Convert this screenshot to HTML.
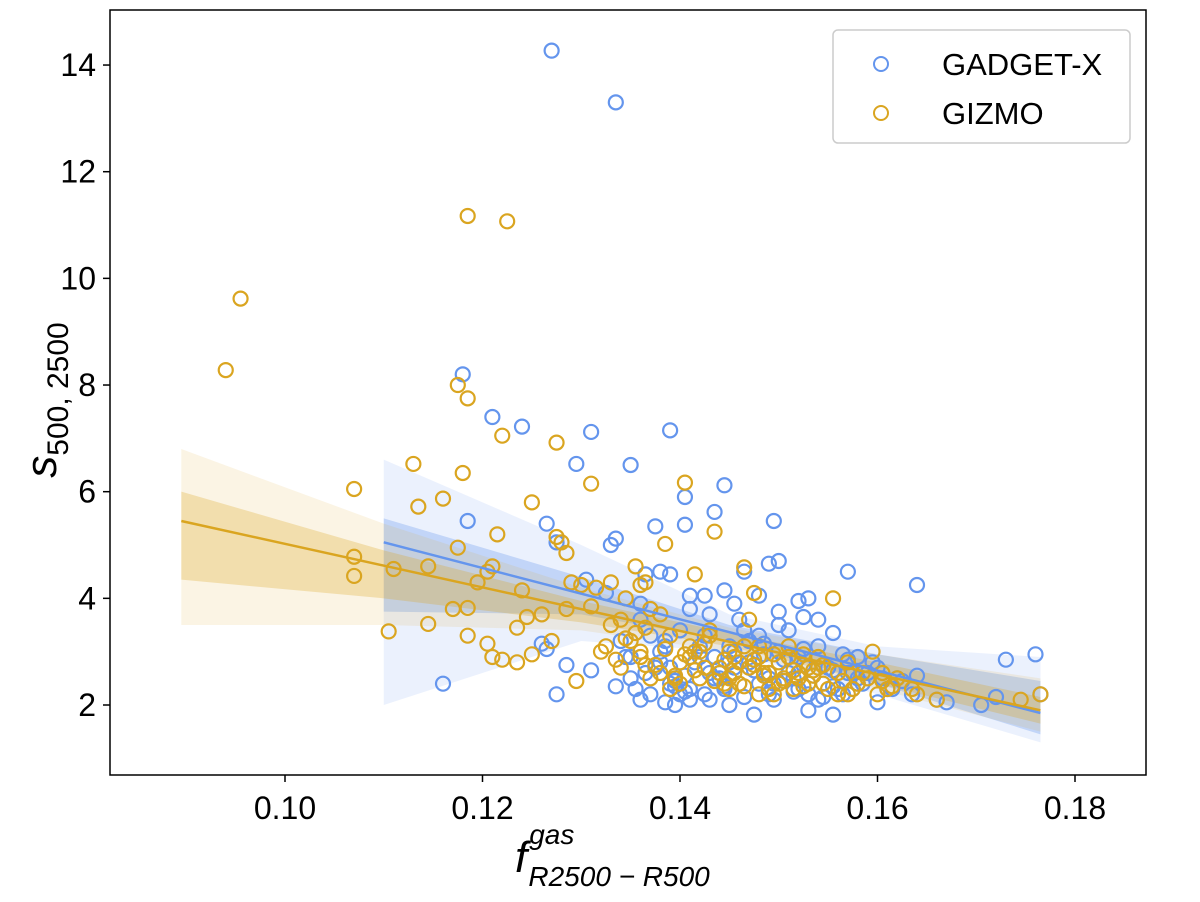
<!DOCTYPE html>
<html><head><meta charset="utf-8"><style>
body{margin:0;background:#fff}
svg{font-family:"Liberation Sans","DejaVu Sans",sans-serif}
</style></head><body>
<svg id="chart" width="1200" height="897"></svg>
<script>
const gadgetX=[0.127,0.1335,0.118,0.121,0.124,0.131,0.139,0.1295,0.135,0.1445,0.1405,0.1405,0.1435,0.1375,0.1265,0.1185,0.1275,0.133,0.1335,0.1495,0.15,0.149,0.164,0.157,0.1465,0.138,0.1365,0.139,0.1305,0.1325,0.1445,0.1425,0.141,0.148,0.152,0.153,0.1525,0.154,0.150,0.1455,0.116,0.1275,0.1265,0.1285,0.126,0.131,0.1335,0.136,0.1385,0.1395,0.141,0.1475,0.1555,0.153,0.160,0.1635,0.164,0.166,0.167,0.1705,0.172,0.173,0.176,0.1765,0.1555,0.158,0.160,0.162,
0.134,0.135,0.136,0.137,0.138,0.139,0.140,0.141,0.142,0.143,0.144,0.145,0.146,0.147,0.148,0.149,0.150,0.151,0.152,0.153,0.154,0.155,0.156,0.157,0.158,0.159,0.135,0.137,0.139,0.141,0.143,0.145,0.147,0.149,0.151,0.153,0.155,0.157,0.140,0.142,0.144,0.146,0.148,0.150,0.152,0.136,0.138,0.143,0.147,0.151,0.154,0.158,0.161,0.145,0.149,
0.1345,0.1355,0.1375,0.1385,0.1395,0.1405,0.1415,0.1425,0.1435,0.1445,0.1455,0.1465,0.1475,0.1485,0.1495,0.1505,0.1515,0.1525,0.1535,0.1545,0.1555,0.1565,0.1575,0.1585,0.1595,0.1605,0.1615,0.1625,0.1365,0.1395,0.1425,0.1455,0.1485,0.1515,0.1545,0.1575,0.1405,0.1435,0.1465,0.1495,0.1525,0.1555,0.1385,0.1445,0.1505,0.1565];
const gadgetY=[14.27,13.3,8.2,7.4,7.22,7.12,7.15,6.52,6.5,6.12,5.9,5.38,5.62,5.35,5.4,5.45,5.05,5.0,5.12,5.45,4.7,4.65,4.25,4.5,4.5,4.5,4.45,4.45,4.35,4.1,4.15,4.05,4.05,4.05,3.95,4.0,3.65,3.6,3.75,3.9,2.4,2.2,3.05,2.75,3.15,2.65,2.35,2.1,2.05,2.0,2.1,1.82,1.82,1.9,2.05,2.2,2.55,2.1,2.05,2.0,2.15,2.85,2.95,2.2,3.35,2.9,2.7,2.5,
3.2,2.5,3.6,2.2,3.0,2.7,3.4,2.3,2.9,3.7,2.6,3.1,2.4,2.8,3.3,2.2,3.5,2.6,2.9,2.4,3.1,2.7,2.3,2.85,2.5,2.6,2.9,3.3,2.4,3.8,2.6,2.8,3.2,2.5,2.9,2.2,2.7,2.6,2.2,3.1,2.5,3.6,2.4,3.0,2.3,3.9,2.8,2.1,2.7,3.4,2.1,2.4,2.3,2.0,2.6,
2.9,2.3,2.7,3.1,2.45,2.25,2.8,3.3,2.5,2.35,3.0,2.15,2.65,3.15,2.4,2.85,2.25,3.05,2.55,2.75,2.35,2.95,2.6,2.4,2.8,2.5,2.3,2.45,2.6,2.35,2.2,2.7,2.95,2.5,2.15,2.3,2.55,2.9,3.4,2.1,2.75,2.65,3.2,2.3,2.45,2.2];
const gizmoX=[0.0955,0.094,0.1185,0.1225,0.1175,0.1185,0.122,0.1275,0.107,0.113,0.118,0.131,0.1405,0.116,0.125,0.1135,0.1215,0.1275,0.128,0.1385,0.1435,0.107,0.107,0.111,0.1145,0.1175,0.1205,0.121,0.1195,0.1185,0.117,0.1145,0.1105,0.1185,0.1205,0.121,0.122,0.1235,0.124,0.1245,0.1235,0.125,0.126,0.127,0.1285,0.1285,0.129,0.13,0.131,0.1315,0.133,0.1345,0.1355,0.136,0.1365,0.1415,0.1465,0.1475,0.1555,0.1595,0.1605,0.166,0.1745,0.1765,0.1295,
0.132,0.133,0.134,0.135,0.136,0.137,0.138,0.139,0.140,0.141,0.142,0.143,0.144,0.145,0.146,0.147,0.148,0.149,0.150,0.151,0.152,0.153,0.154,0.155,0.156,0.157,0.158,0.159,0.160,0.162,0.134,0.136,0.138,0.140,0.142,0.144,0.146,0.148,0.150,0.152,0.154,0.156,0.141,0.143,0.145,0.147,0.149,0.151,0.137,0.139,0.145,0.148,0.153,0.157,0.161,0.164,
0.1325,0.1335,0.1355,0.1375,0.1385,0.1395,0.1405,0.1415,0.1425,0.1435,0.1445,0.1455,0.1465,0.1475,0.1485,0.1495,0.1505,0.1515,0.1525,0.1535,0.1545,0.1565,0.1575,0.1585,0.1605,0.1615,0.1635,0.1345,0.1365,0.1395,0.1425,0.1455,0.1485,0.1515,0.1545,0.1415,0.1445,0.1475,0.1505,0.1535,0.1365,0.1465,0.1495,0.1525];
const gizmoY=[9.62,8.28,11.17,11.07,8.0,7.75,7.05,6.92,6.05,6.52,6.35,6.15,6.17,5.87,5.8,5.72,5.2,5.15,5.05,5.02,5.25,4.78,4.42,4.55,4.6,4.95,4.5,4.6,4.3,3.82,3.8,3.52,3.38,3.3,3.15,2.9,2.85,3.45,4.15,3.65,2.8,2.95,3.7,3.2,3.8,4.85,4.3,4.25,3.85,4.2,4.3,4.0,4.6,4.25,4.3,4.45,4.58,4.1,4.0,3.0,2.6,2.1,2.1,2.2,2.45,
3.0,3.5,2.7,3.2,2.9,3.8,2.6,3.3,2.8,3.1,2.5,3.4,2.7,3.0,2.4,3.6,2.9,2.6,2.8,3.1,2.5,2.7,2.9,2.3,2.6,2.8,2.4,2.5,2.2,2.5,3.6,3.0,3.7,2.4,3.0,2.6,2.8,3.1,2.4,2.6,2.7,2.2,2.9,3.3,2.5,2.7,2.3,2.9,2.5,2.3,2.3,2.2,2.4,2.2,2.3,2.2,
3.1,2.85,3.35,2.75,3.05,2.55,2.95,2.65,3.15,2.45,2.85,2.6,2.35,2.75,2.55,2.95,2.45,2.65,2.35,2.55,2.75,2.45,2.3,2.6,2.45,2.35,2.3,3.25,2.75,2.5,2.7,2.9,2.6,2.3,2.4,3.0,2.4,2.85,2.5,2.65,3.45,3.1,2.2,2.95];
const gadgetBandX=[0.110,0.130,0.145,0.160,0.1765];
const gadgetInnerLo=[3.75,3.7,3.2,2.4,1.45], gadgetInnerHi=[5.5,4.4,3.5,2.95,2.45];
const gadgetOuterLo=[2.0,3.2,3.0,2.2,1.3], gadgetOuterHi=[6.6,5.0,3.7,3.1,2.9];
const gadgetLine=[[0.110,5.05],[0.1765,1.85]];
const gizmoBandX=[0.0895,0.110,0.130,0.145,0.160,0.1765];
const gizmoInnerLo=[4.35,4.0,3.55,3.1,2.4,1.65], gizmoInnerHi=[6.0,4.9,3.95,3.35,2.8,2.15];
const gizmoOuterLo=[3.5,3.5,3.4,3.0,2.3,1.5], gizmoOuterHi=[6.8,5.4,4.2,3.45,2.95,2.5];
const gizmoLine=[[0.0895,5.45],[0.1765,1.9]];
const xTicks=[0.10,0.12,0.14,0.16,0.18], xTickLabels=["0.10","0.12","0.14","0.16","0.18"];
const yTicks=[2,4,6,8,10,12,14];

const L=110,R=1146,T=10,B=775;
const sx=v=>285+(v-0.10)*9875;
const sy=v=>705-(v-2)*53.33;
const svg=document.getElementById('chart');
const NS='http://www.w3.org/2000/svg';
function mk(t,a,p){const e=document.createElementNS(NS,t);for(const k in a)e.setAttribute(k,a[k]);(p||svg).appendChild(e);return e;}
function band(xs,lo,hi,fill,op,name){
  let d='M'+xs.map((x,i)=>sx(x)+','+sy(hi[i])).join('L')+'L'+xs.map((x,i)=>sx(x)+','+sy(lo[i])).reverse().join('L')+'Z';
  const e=mk('path',{d:d,fill:fill,'fill-opacity':op});
  
  
}
band(gadgetBandX,gadgetOuterLo,gadgetOuterHi,'#6495ED',0.13,'gadget-x-outer-band');
band(gadgetBandX,gadgetInnerLo,gadgetInnerHi,'#6495ED',0.3,'gadget-x-inner-band');
band(gizmoBandX,gizmoOuterLo,gizmoOuterHi,'#DAA520',0.12,'gizmo-outer-band');
band(gizmoBandX,gizmoInnerLo,gizmoInnerHi,'#DAA520',0.28,'gizmo-inner-band');
function pts(xs,ys,col,name){
  const g=mk('g',{});
  
  
  xs.forEach((x,i)=>{const c=mk('circle',{cx:sx(x),cy:sy(ys[i]),r:7,fill:'none',stroke:col,'stroke-width':2.2},g);
    
    });
}
pts(gadgetX,gadgetY,'#6495ED','gadget-x-points');
pts(gizmoX,gizmoY,'#DAA520','gizmo-points');
function line(p,col,name){const e=mk('line',{x1:sx(p[0][0]),y1:sy(p[0][1]),x2:sx(p[1][0]),y2:sy(p[1][1]),stroke:col,'stroke-width':2.5});
  
  }
line(gadgetLine,'#6495ED','gadget-x-fit-line');
line(gizmoLine,'#DAA520','gizmo-fit-line');
const fr=mk('rect',{x:L,y:T,width:R-L,height:B-T,fill:'none',stroke:'#000','stroke-width':1.5});


xTicks.forEach((v,i)=>{mk('line',{x1:sx(v),x2:sx(v),y1:B,y2:B+7,stroke:'#000','stroke-width':1.5});
  const t=mk('text',{x:sx(v),y:B+44,'font-size':32,'text-anchor':'middle'});t.textContent=xTickLabels[i];
  
  });
yTicks.forEach(v=>{mk('line',{x1:L-7,x2:L,y1:sy(v),y2:sy(v),stroke:'#000','stroke-width':1.5});
  const t=mk('text',{x:L-14,y:sy(v)+11,'font-size':32,'text-anchor':'end'});t.textContent=v;
  
  });
</script>
<svg width="1200" height="897" style="position:absolute;left:0;top:0">
<text transform="translate(56,400) rotate(-90)" font-family="Liberation Sans,sans-serif" font-size="44" font-style="italic" text-anchor="middle">s<tspan font-size="30" dy="12" font-style="normal">500, 2500</tspan></text>
<text x="515" y="872" font-family="Liberation Sans,sans-serif" font-size="44" font-style="italic">f<tspan font-size="28" dx="2" dy="-28">gas</tspan><tspan font-size="28" dx="-46" dy="42">R2500 − R500</tspan></text>
<g>
<rect x="833" y="30" width="297" height="113" rx="5" fill="#fff" stroke="#ccc" stroke-width="1.5"/>
<circle cx="881" cy="64" r="7" fill="none" stroke="#6495ED" stroke-width="2"/>
<text x="942" y="75" font-family="Liberation Sans,sans-serif" font-size="31">GADGET-X</text>
<circle cx="881" cy="113" r="7" fill="none" stroke="#DAA520" stroke-width="2"/>
<text x="942" y="124" font-family="Liberation Sans,sans-serif" font-size="31">GIZMO</text>
</g>
</svg>
</body></html>
